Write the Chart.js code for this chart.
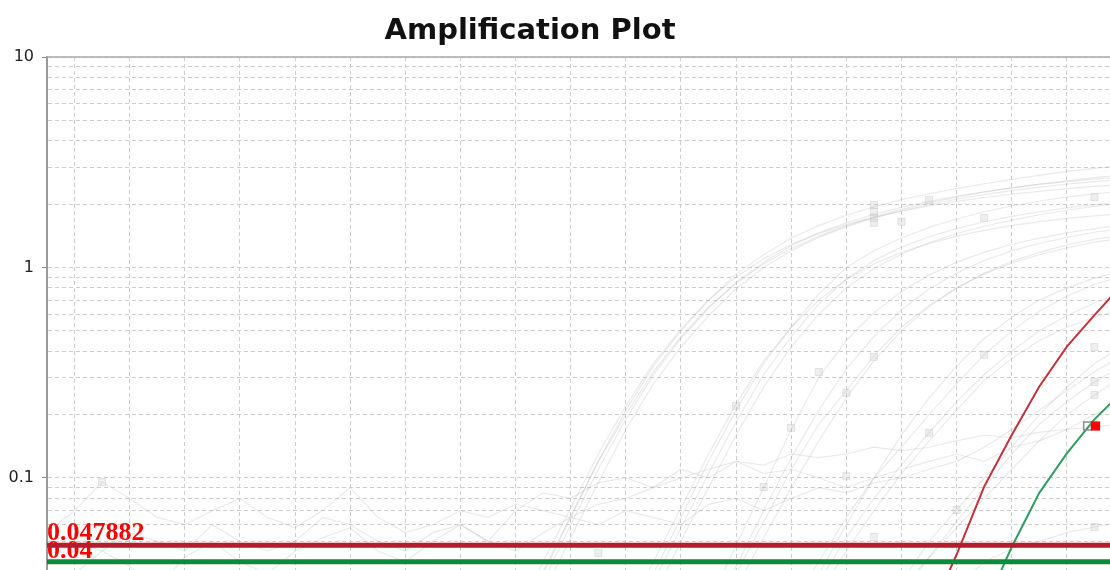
<!DOCTYPE html>
<html>
<head>
<meta charset="utf-8">
<script src="https://cdn.jsdelivr.net/npm/chart.js@4.4.1/dist/chart.umd.min.js"></script>
<style>
html,body{margin:0;padding:0;background:#fff;overflow:hidden;}
#wrap{width:1122px;height:570px;}
</style>
</head>
<body>
<div id="wrap"><canvas id="amp" width="1122" height="570"></canvas></div>
<script>
// ---- data ----
const chartTitle = "Amplification Plot";
const firstCycle = 1;
const lastCycle = 40;
const xGrid = [2,4,6,8,10,12,14,16,18,20,22,24,26,28,30,32,34,36,38,40];
const yGrid = [0.04,0.05,0.06,0.07,0.08,0.09,0.1,0.2,0.3,0.4,0.5,0.6,0.7,0.8,0.9,1,2,3,4,5,6,7,8,9,10];
const yLabelValues = [0.1, 1, 10];
const yLabelText = ["0.1", "1", "10"];
const yMin = 0.03655;
const yMax = 10;

const thresholdRed = 0.047882;
const thresholdGreen = 0.04;
const thresholdText = ["0.047882", "0.04"];

// highlighted wells
const redStart = 31;
const redValues = [0.015,0.019,0.022,0.0433,0.091,0.16,0.272,0.421,0.594,0.826];
const greenStart = 33;
const greenValues = [0.012,0.016,0.024,0.047,0.085,0.131,0.19,0.256];

// other wells (faint grey), each starting at grayStart[i]
const grayStart = [18,18,18,18,18, 22,22,22,22, 25,25,25,25, 28,28,28,28, 31,31,31,33, 1,1,1];
const grayCurves = [
  [0.02,0.035,0.065,0.12,0.21,0.34,0.50,0.70,0.93,1.15,1.38,1.58,1.77,1.94,2.10,2.24,2.37,2.50,2.62,2.74,2.86,2.96,3.05],
  [0.018,0.032,0.06,0.11,0.19,0.31,0.46,0.64,0.85,1.06,1.27,1.46,1.63,1.79,1.93,2.06,2.18,2.29,2.39,2.48,2.56,2.63,2.69],
  [0.022,0.04,0.072,0.13,0.22,0.35,0.51,0.70,0.90,1.10,1.29,1.45,1.60,1.73,1.85,1.96,2.06,2.15,2.23,2.30,2.37,2.43,2.48],
  [0.015,0.028,0.052,0.095,0.17,0.28,0.42,0.59,0.79,1.0,1.2,1.39,1.56,1.72,1.86,1.99,2.11,2.22,2.32,2.41,2.49,2.56,2.62],
  [0.02,0.036,0.066,0.12,0.2,0.32,0.47,0.65,0.84,1.04,1.23,1.41,1.58,1.74,1.89,2.03,2.16,2.28,2.39,2.49,2.58,2.67,2.75],
  [0.02,0.035,0.065,0.12,0.21,0.35,0.52,0.75,1.0,1.2,1.38,1.55,1.7,1.84,1.96,2.07,2.16,2.24,2.3],
  [0.018,0.032,0.058,0.105,0.185,0.31,0.47,0.67,0.88,1.08,1.25,1.4,1.53,1.65,1.75,1.84,1.92,1.99,2.05],
  [0.022,0.04,0.072,0.13,0.225,0.36,0.52,0.7,0.88,1.04,1.18,1.3,1.41,1.5,1.58,1.65,1.71,1.76,1.8],
  [0.015,0.027,0.05,0.09,0.16,0.27,0.42,0.6,0.8,0.99,1.16,1.31,1.45,1.57,1.68,1.78,1.87,1.95,2.02],
  [0.02,0.038,0.07,0.125,0.21,0.33,0.47,0.63,0.79,0.94,1.08,1.2,1.3,1.39,1.47,1.53],
  [0.025,0.048,0.09,0.17,0.3,0.45,0.61,0.77,0.92,1.06,1.18,1.29,1.38,1.46,1.53,1.59],
  [0.02,0.035,0.062,0.11,0.18,0.26,0.38,0.52,0.66,0.8,0.93,1.05,1.15,1.24,1.32,1.38],
  [0.018,0.03,0.052,0.09,0.15,0.24,0.36,0.5,0.65,0.8,0.94,1.07,1.18,1.28,1.36,1.43],
  [0.02,0.035,0.06,0.1,0.16,0.24,0.34,0.46,0.58,0.7,0.8,0.89,0.96],
  [0.025,0.04,0.065,0.1,0.14,0.2,0.28,0.385,0.5,0.62,0.73,0.83,0.91],
  [0.02,0.032,0.052,0.08,0.115,0.164,0.23,0.31,0.4,0.5,0.59,0.68,0.76],
  [0.018,0.028,0.045,0.07,0.105,0.15,0.21,0.29,0.37,0.45,0.52,0.58,0.63],
  [0.02,0.032,0.05,0.0705,0.1,0.14,0.2,0.27,0.35,0.42],
  [0.018,0.028,0.042,0.062,0.09,0.13,0.18,0.23,0.286,0.34],
  [0.02,0.03,0.042,0.058,0.08,0.11,0.15,0.2,0.248,0.3],
  [0.02,0.03,0.04,0.046,0.05,0.055,0.0585,0.062],
  [0.055,0.07,0.0957,0.08,0.065,0.06,0.07,0.08,0.065,0.058,0.07,0.09,0.065,0.055,0.06,0.07,0.065,0.075,0.07,0.065,
   0.075,0.08,0.09,0.1,0.11,0.12,0.115,0.13,0.125,0.13,0.14,0.135,0.14,0.15,0.16,0.155,0.165,0.17,0.175,0.18],
  [0.04,0.05,0.045,0.055,0.05,0.045,0.06,0.05,0.045,0.05,0.065,0.06,0.05,0.045,0.055,0.06,0.05,0.07,0.085,0.08,
   0.095,0.1,0.09,0.11,0.1,0.12,0.105,0.11,0.1,0.09,0.1,0.11,0.12,0.13,0.12,0.14,0.15,0.17,0.2,0.23],
  [0.03,0.035,0.045,0.038,0.03,0.042,0.05,0.04,0.035,0.045,0.052,0.058,0.045,0.04,0.05,0.06,0.05,0.045,0.055,0.065,
   0.06,0.07,0.065,0.06,0.075,0.08,0.07,0.08,0.09,0.085,0.095,0.1,0.11,0.12,0.14,0.17,0.21,0.26,0.32,0.38]
];

// faint square point markers on grey wells
const dotCycles = [31,31,31,31,32,33,35,39,26,28,29,30,31,27,30,31,21,35,39,39,39,33,39,34,3];
const dotValues = [1.98,1.84,1.72,1.63,1.65,2.09,1.72,2.16,0.22,0.173,0.319,0.253,0.376,0.0906,0.102,0.0525,0.044,0.385,0.419,0.286,0.248,0.164,0.0585,0.0705,0.0957];

// Ct markers of the selected well
const ctCycles = [38.75, 39.04];
const ctValues = [0.1766, 0.1766];

// ---- build ----
function series(start, vals){
  return vals.map((v,i)=>({x:start+i, y:v}));
}

const datasets = [];

datasets.push({data:[{x:firstCycle,y:thresholdRed},{x:lastCycle,y:thresholdRed}], borderColor:'#b41d2b', borderWidth:5, pointRadius:0});
datasets.push({data:[{x:firstCycle,y:thresholdGreen},{x:lastCycle,y:thresholdGreen}], borderColor:'#0b8b3e', borderWidth:5, pointRadius:0});

datasets.push({data:[{x:ctCycles[1],y:ctValues[1]}], showLine:false, pointStyle:'rect', pointRadius:6.5, backgroundColor:'#ff0000', borderColor:'#ff0000', borderWidth:0});
datasets.push({data:[{x:ctCycles[0],y:ctValues[0]}], showLine:false, pointStyle:'rect', pointRadius:5.5, backgroundColor:'rgba(255,255,255,0)', borderColor:'#8a8a8a', borderWidth:1.5});

datasets.push({data:series(redStart, redValues), borderColor:'#c7303b', borderWidth:2, pointRadius:0});
datasets.push({data:series(greenStart, greenValues), borderColor:'#2f9e5e', borderWidth:2, pointRadius:0});

datasets.push({data:dotCycles.map((c,i)=>({x:c,y:dotValues[i]})), showLine:false, pointStyle:'rect', pointRadius:5, backgroundColor:'rgba(200,200,200,0.3)', borderColor:'rgba(190,190,190,0.35)', borderWidth:1});

grayCurves.forEach((vals,i)=>{
  datasets.push({data:series(grayStart[i], vals), borderColor:'rgba(170,170,170,0.25)', borderWidth:1.2, pointRadius:0});
});

const decorations = {
  id:'decorations',
  beforeDatasetsDraw(chart){
    const {ctx, chartArea, scales} = chart;
    ctx.save();
    ctx.fillStyle = '#ff0000';
    ctx.font = 'bold 26px "Liberation Serif"';
    ctx.textAlign = 'left';
    ctx.textBaseline = 'alphabetic';
    ctx.fillText(thresholdText[0], chartArea.left, scales.y.getPixelForValue(thresholdRed) - 5);
    ctx.fillText(thresholdText[1], chartArea.left, scales.y.getPixelForValue(thresholdGreen) - 4);
    ctx.restore();
  },
  afterDraw(chart){
    const {ctx, chartArea} = chart;
    ctx.save();
    ctx.strokeStyle = '#a8a8a8';
    ctx.lineWidth = 1.5;
    ctx.beginPath();
    ctx.moveTo(chartArea.left, chartArea.top);
    ctx.lineTo(chartArea.right, chartArea.top);
    ctx.stroke();
    ctx.fillStyle = '#111';
    ctx.font = 'bold 29px "DejaVu Sans"';
    ctx.textAlign = 'center';
    ctx.textBaseline = 'alphabetic';
    ctx.fillText(chartTitle, 530, 39);
    ctx.restore();
  }
};

new Chart(document.getElementById('amp'), {
  type:'line',
  data:{datasets:datasets},
  options:{
    responsive:false,
    animation:false,
    devicePixelRatio:1,
    layout:{autoPadding:false, padding:{top:57, right:0, bottom:0, left:0}},
    elements:{line:{tension:0}},
    plugins:{legend:{display:false}, tooltip:{enabled:false}, title:{display:false}},
    scales:{
      x:{
        type:'linear',
        min:firstCycle,
        max:lastCycle,
        afterBuildTicks:(scale)=>{ scale.ticks = xGrid.map(v=>({value:v})); },
        afterFit:(scale)=>{ scale.height = 0; scale.paddingLeft = 0; scale.paddingRight = 0; },
        ticks:{display:false},
        grid:{color:'#cdcdcd', lineWidth:1, drawTicks:false},
        border:{display:false, dash:[4,3]}
      },
      y:{
        type:'logarithmic',
        min:yMin,
        max:yMax,
        afterBuildTicks:(scale)=>{ scale.ticks = yGrid.map(v=>({value:v})); },
        afterFit:(scale)=>{ scale.width = 47; scale.paddingTop = 0; scale.paddingBottom = 0; },
        ticks:{
          autoSkip:false,
          padding:8,
          color:'#222',
          font:{family:'"DejaVu Sans"', size:16},
          callback:(value)=>{
            const k = yLabelValues.findIndex(v=>Math.abs(v-value)<1e-9);
            return k>=0 ? yLabelText[k] : '';
          }
        },
        grid:{
          color:'#cdcdcd',
          lineWidth:1,
          tickLength:5,
          tickBorderDash:[],
          tickColor:(ctx)=> (ctx.tick && yLabelValues.some(v=>Math.abs(v-ctx.tick.value)<1e-9)) ? '#888' : 'rgba(0,0,0,0)'
        },
        border:{display:true, color:'#9a9a9a', width:2, dash:[4,3]}
      }
    }
  },
  plugins:[decorations]
});
</script>
</body>
</html>
